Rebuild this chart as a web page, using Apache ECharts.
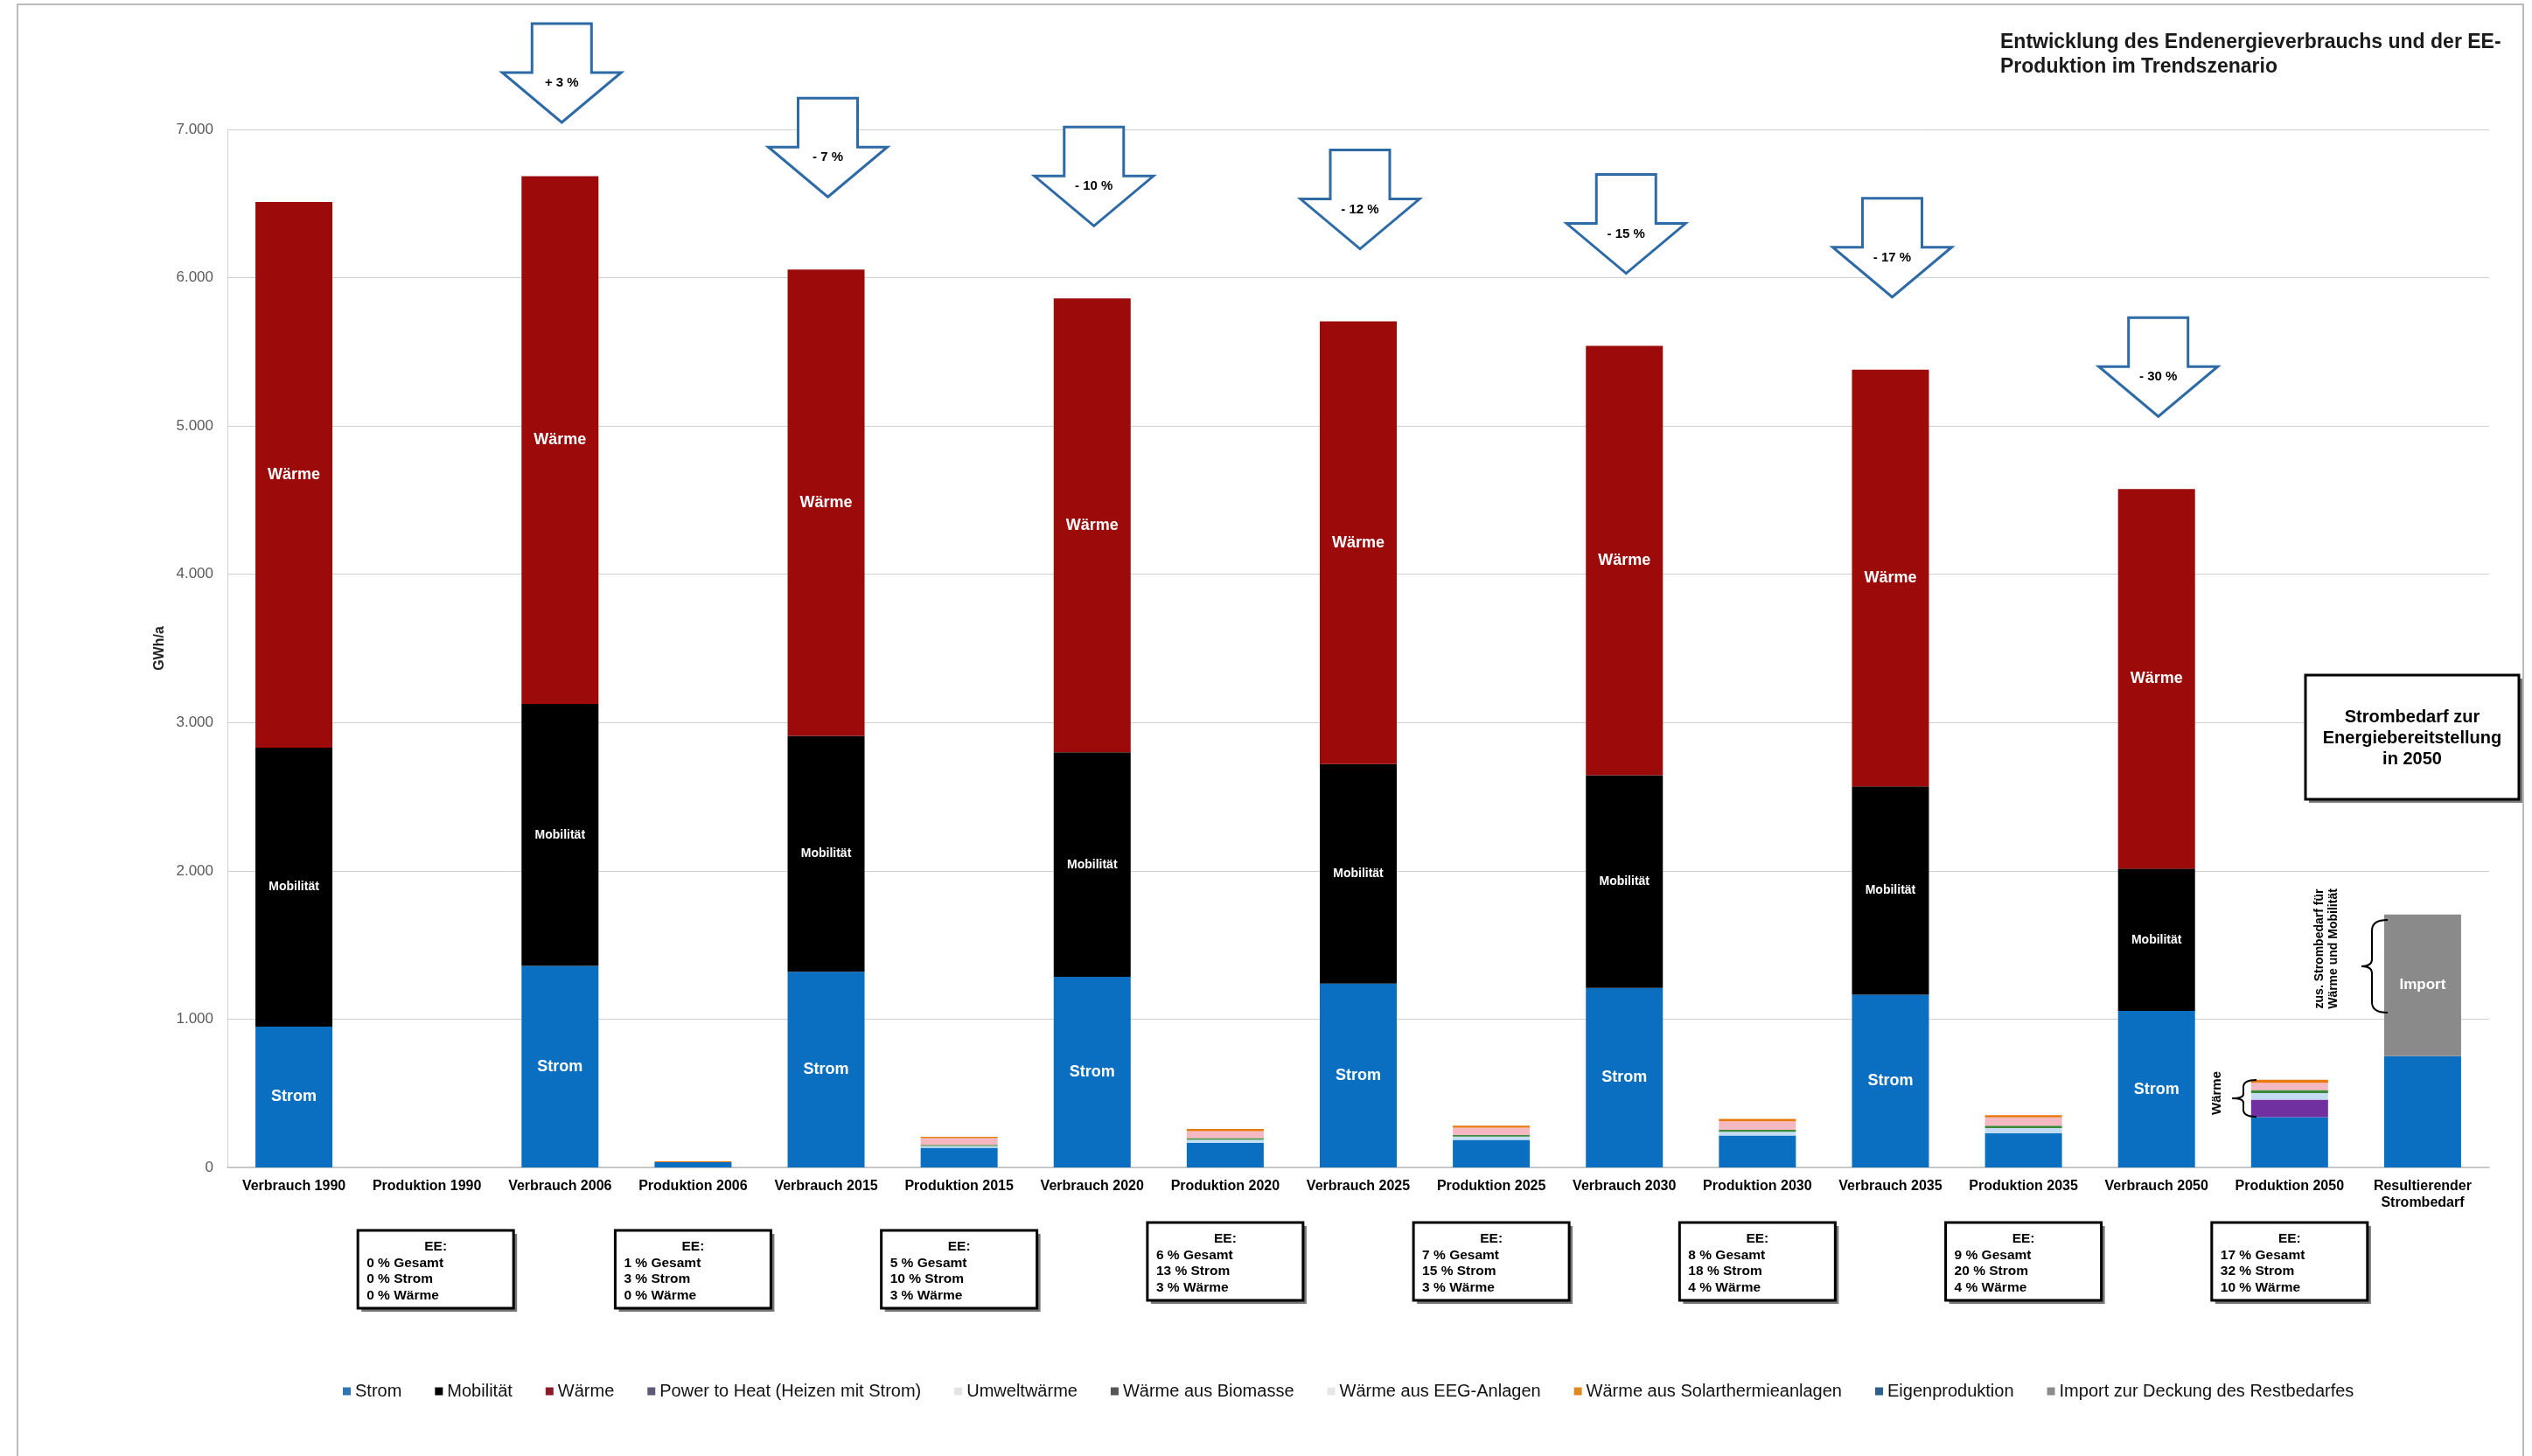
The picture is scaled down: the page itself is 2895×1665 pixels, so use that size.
<!DOCTYPE html>
<html><head><meta charset="utf-8">
<script src="https://cdn.jsdelivr.net/npm/echarts@6/dist/echarts.min.js"></script>
<style>html,body{margin:0;padding:0;background:#fff}#c{width:2895px;height:1665px}</style>
</head><body><div id="c"></div>
<script>
// ---------- data ----------
const categories = ['Verbrauch 1990','Produktion 1990','Verbrauch 2006','Produktion 2006','Verbrauch 2015','Produktion 2015','Verbrauch 2020','Produktion 2020','Verbrauch 2025','Produktion 2025','Verbrauch 2030','Produktion 2030','Verbrauch 2035','Produktion 2035','Verbrauch 2050','Produktion 2050','Resultierender\nStrombedarf'];
const strom        = [950,0,1360,0,1320,0,1285,0,1240,0,1210,0,1165,0,1055,0,750];
const mobilitaet   = [1880,0,1765,0,1590,0,1515,0,1480,0,1435,0,1405,0,960,0,0];
const waerme       = [3680,0,3560,0,3145,0,3060,0,2985,0,2895,0,2810,0,2560,0,0];
const eigenproduktion = [0,0,0,36,0,132,0,167,0,186,0,215,0,231,0,339,0];
const powerToHeat  = [0,0,0,0,0,0,0,0,0,0,0,0,0,0,0,118,0];
const umweltwaerme = [0,0,0,0,0,12,0,20,0,22,0,25,0,35,0,45,0];
const biomasse     = [0,0,0,0,0,8,0,10,0,10,0,13,0,16,0,20,0];
const eegAnlagen   = [0,0,0,0,0,45,0,48,0,50,0,58,0,55,0,49,0];
const solarthermie = [0,0,0,5,0,10,0,14,0,14,0,16,0,16,0,20,0];
const importRest   = [0,0,0,0,0,0,0,0,0,0,0,0,0,0,0,0,956];

const arrowCats   = ['Verbrauch 2006','Verbrauch 2015','Verbrauch 2020','Verbrauch 2025','Verbrauch 2030','Verbrauch 2035','Verbrauch 2050'];
const arrowLabels = ['+ 3 %','- 7 %','- 10 %','- 12 %','- 15 %','- 17 %','- 30 %'];

const eeCats    = ['Produktion 1990','Produktion 2006','Produktion 2015','Produktion 2020','Produktion 2025','Produktion 2030','Produktion 2035','Produktion 2050'];
const eeGesamt  = [0,1,5,6,7,8,9,17];
const eeStrom   = [0,3,10,13,15,18,20,32];
const eeWaerme  = [0,0,3,3,3,4,4,10];

const yMin = 0, yMax = 7000, yStep = 1000;
const title = 'Entwicklung des Endenergieverbrauchs und der EE-\nProduktion im Trendszenario';
const yName = 'GWh/a';

// ---------- chart ----------
const FONT = 'Liberation Sans, Arial, sans-serif';
const seriesDefs = [
  ['Strom', strom, '#0b6fc1'],
  ['Mobilität', mobilitaet, '#000000'],
  ['Wärme', waerme, '#9c0a0a'],
  ['Eigenproduktion', eigenproduktion, '#0b6fc1'],
  ['Power to Heat (Heizen mit Strom)', powerToHeat, '#7030a0'],
  ['Umweltwärme', umweltwaerme, '#c3dcf2'],
  ['Wärme aus Biomasse', biomasse, '#3a8a3a'],
  ['Wärme aus EEG-Anlagen', eegAnlagen, '#f5b8c2'],
  ['Wärme aus Solarthermieanlagen', solarthermie, '#e8790f'],
  ['Import zur Deckung des Restbedarfes', importRest, '#8a8a8a']
];
const labelText = {'Strom':'Strom','Mobilität':'Mobilität','Wärme':'Wärme','Import zur Deckung des Restbedarfes':'Import'};
const labelSize = {'Strom':18,'Mobilität':14,'Wärme':18,'Import zur Deckung des Restbedarfes':17};

const totals = categories.map((c,i)=>seriesDefs.reduce((s,d)=>s+d[1][i],0));

const series = seriesDefs.map(([name,data,color])=>({
  name, type:'bar', stack:'total', data, barWidth:88,
  itemStyle:{color},
  label: labelText[name] ? {
    show:true, position:'inside', color:'#fff', fontWeight:'bold', fontFamily:FONT, fontSize:labelSize[name],
    formatter: p => (p.value > 0 && (name.startsWith('Import') || p.name.startsWith('Verbrauch'))) ? labelText[name] : ''
  } : {show:false}
}));

series.push({
  type:'custom', name:'arrows', coordinateSystem:'cartesian2d', clip:false, silent:true, z:10,
  data: arrowCats.map((c,i)=>{const k=categories.indexOf(c); return [k, totals[k], i];}),
  renderItem(params, api){
    const p = api.coord([api.value(0), api.value(1)]);
    const x = p[0] + 2;
    const tip = Math.max(p[1]-83, 140);
    const top = tip-113, sh = tip-57, hw=68, sw=34;
    return {type:'group', children:[
      {type:'polygon', shape:{points:[[x-sw,top],[x+sw,top],[x+sw,sh],[x+hw,sh],[x,tip],[x-hw,sh],[x-sw,sh]]},
       style:{fill:'#fff', stroke:'#2e6aa6', lineWidth:3}},
      {type:'text', style:{text:arrowLabels[api.value(2)], x:x, y:sh+12, align:'center', verticalAlign:'middle',
        fontSize:15, fontWeight:'bold', fontFamily:FONT, fill:'#000'}}
    ]};
  }
});

series.push({
  type:'custom', name:'eeBoxes', coordinateSystem:'cartesian2d', clip:false, silent:true, z:10,
  data: eeCats.map((c,i)=>[categories.indexOf(c), 0, i]),
  renderItem(params, api){
    const i = api.value(2);
    const cx = api.coord([api.value(0), 0])[0] + (i===0 ? 10 : 0);
    const w = 178, h = 89;
    const top = i < 3 ? 1407 : 1398;
    const left = cx - w/2;
    const txt = (t, x, y, align) => ({type:'text', style:{text:t, x, y, align, verticalAlign:'middle',
        fontSize:15.5, fontWeight:'bold', fontFamily:FONT, fill:'#000'}});
    return {type:'group', children:[
      {type:'rect', shape:{x:left+4, y:top+4, width:w, height:h}, style:{fill:'#777'}},
      {type:'rect', shape:{x:left, y:top, width:w, height:h}, style:{fill:'#fff', stroke:'#000', lineWidth:3}},
      txt('EE:', cx, top+19, 'center'),
      txt(eeGesamt[i]+' % Gesamt', left+10, top+38, 'left'),
      txt(eeStrom[i]+' % Strom', left+10, top+56, 'left'),
      txt(eeWaerme[i]+' % Wärme', left+10, top+75, 'left')
    ]};
  }
});

// curly braces next to the 2050 columns
series.push({
  type:'custom', name:'braces', coordinateSystem:'cartesian2d', clip:false, silent:true, z:10,
  data: [[0, 0]],
  renderItem(){
    return {type:'group', children:[
      {type:'path', shape:{pathData:'M 2730 1052 Q 2712 1052 2712 1064 L 2712 1097 Q 2712 1105 2700 1105 Q 2712 1105 2712 1113 L 2712 1146 Q 2712 1158 2730 1158'},
        style:{fill:null, stroke:'#000', lineWidth:2}},
      {type:'path', shape:{pathData:'M 2580 1235 Q 2565 1235 2565 1243 L 2565 1251 Q 2565 1256 2552 1256 Q 2565 1256 2565 1261 L 2565 1269 Q 2565 1277 2580 1277'},
        style:{fill:null, stroke:'#000', lineWidth:2}}
    ]};
  }
});

const legendColors = {
  'Strom':'#2e75b6','Mobilität':'#000','Wärme':'#8b1a2b','Power to Heat (Heizen mit Strom)':'#5a5a78',
  'Umweltwärme':'#e4e4e4','Wärme aus Biomasse':'#555','Wärme aus EEG-Anlagen':'#e6e6e6',
  'Wärme aus Solarthermieanlagen':'#e08a1e','Eigenproduktion':'#2e5f8a','Import zur Deckung des Restbedarfes':'#8c8c8c'
};
const legendOrder = ['Strom','Mobilität','Wärme','Power to Heat (Heizen mit Strom)','Umweltwärme','Wärme aus Biomasse','Wärme aus EEG-Anlagen','Wärme aus Solarthermieanlagen','Eigenproduktion','Import zur Deckung des Restbedarfes'];

const option = {
  backgroundColor:'#fff',
  animation:false,
  title:{text:title, left:2282, top:30, textStyle:{fontFamily:FONT, fontSize:23, fontWeight:'bold', color:'#1a1a1a', lineHeight:28}},
  grid:{left:260, right:49, top:148, bottom:330},
  legend:{
    data: legendOrder.map(n=>({name:n, itemStyle:{color:legendColors[n]}})),
    left:387, top:1576, icon:'rect', itemWidth:9, itemHeight:9, itemGap:38,
    textStyle:{fontFamily:FONT, fontSize:20, color:'#111'}
  },
  xAxis:{
    type:'category', data:categories,
    axisTick:{show:false},
    axisLine:{lineStyle:{color:'#bfbfbf', width:1.5}},
    axisLabel:{interval:0, fontFamily:FONT, fontSize:16, fontWeight:'bold', color:'#000', margin:12, lineHeight:19}
  },
  yAxis:{
    type:'value', min:yMin, max:yMax, interval:yStep,
    name:yName, nameLocation:'middle', nameGap:66, nameRotate:90,
    nameTextStyle:{fontFamily:FONT, fontSize:16, fontWeight:'bold', color:'#222'},
    axisLine:{show:true, lineStyle:{color:'#d0d0d0'}},
    axisTick:{show:false},
    splitLine:{lineStyle:{color:'#d0d0d0', width:1}},
    axisLabel:{fontFamily:FONT, fontSize:17, color:'#595959', margin:16,
      formatter: v => String(v).replace(/\B(?=(\d{3})+(?!\d))/g, '.')}
  },
  graphic:[
    {type:'rect', silent:true, z:-10, shape:{x:20, y:5, width:2865, height:1680}, style:{fill:null, stroke:'#a6a6a6', lineWidth:1.5}},
    {type:'rect', z:20, shape:{x:2640, y:776, width:244, height:142}, style:{fill:'#777'}},
    {type:'rect', z:21, shape:{x:2636, y:772, width:244, height:142}, style:{fill:'#fff', stroke:'#000', lineWidth:3}},
    {type:'text', z:22, style:{text:'Strombedarf zur\nEnergiebereitstellung\nin 2050', x:2758, y:844, align:'center', verticalAlign:'middle',
      fontSize:20, fontWeight:'bold', fontFamily:FONT, fill:'#000', lineHeight:24}},
    {type:'text', z:22, x:2660, y:1085, rotation:Math.PI/2, style:{text:'zus. Strombedarf für\nWärme und Mobilität', align:'center', verticalAlign:'middle',
      fontSize:14, fontWeight:'bold', fontFamily:FONT, fill:'#000', lineHeight:16}},
    {type:'text', z:22, x:2535, y:1250, rotation:Math.PI/2, style:{text:'Wärme', align:'center', verticalAlign:'middle',
      fontSize:15, fontWeight:'bold', fontFamily:FONT, fill:'#000'}}
  ],
  series
};
const chart = echarts.init(document.getElementById('c'), null, {renderer:'canvas'});
chart.setOption(option);
</script></body></html>
